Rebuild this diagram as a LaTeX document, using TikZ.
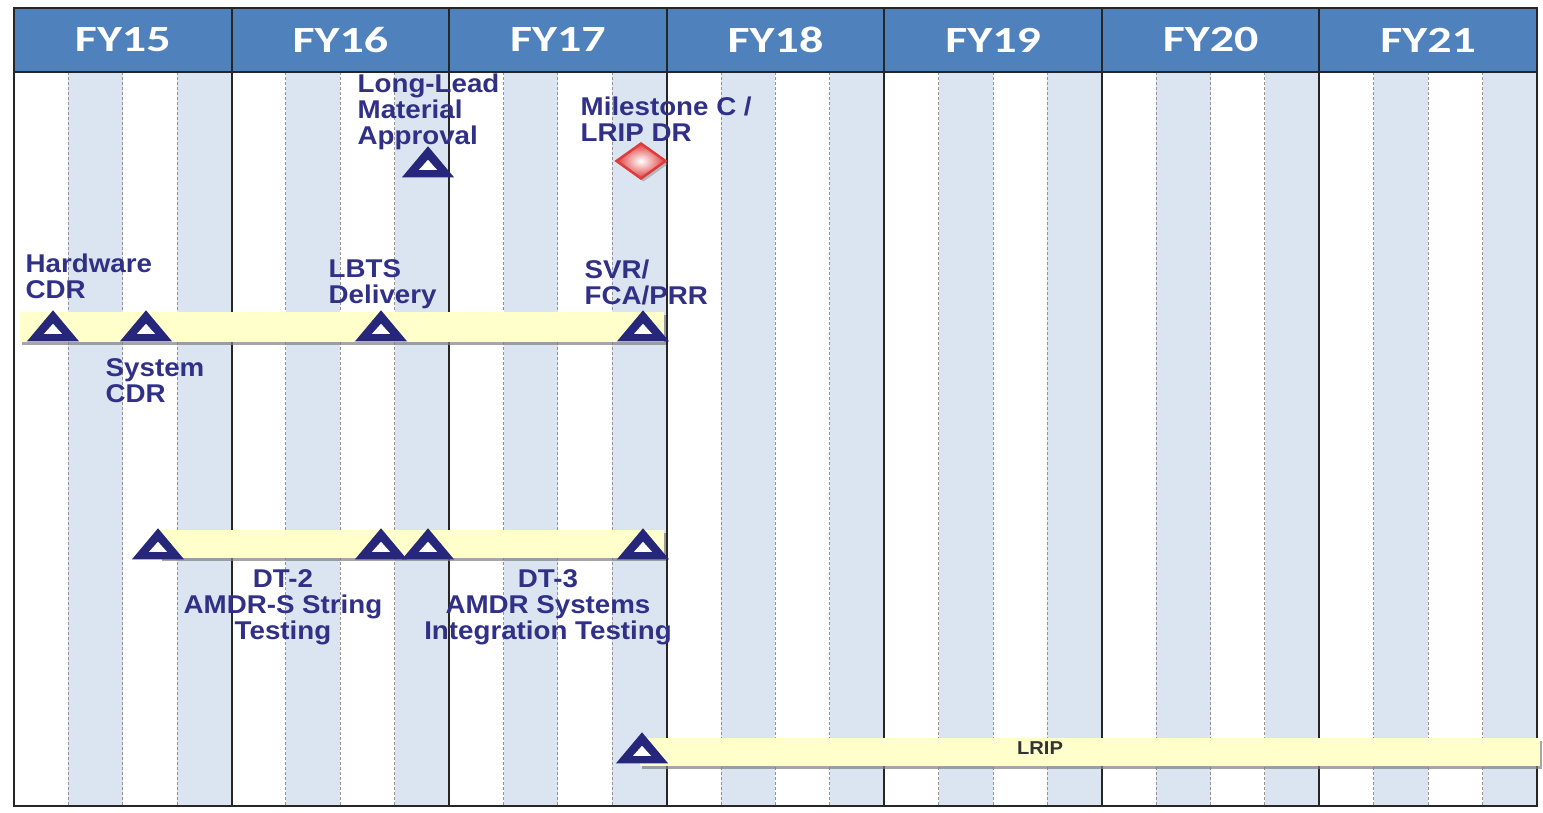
\documentclass[tikz,border=0pt]{standalone}
\usepackage{fontspec}
\newfontfamily\lblfont{Liberation Sans}[FakeStretch=1.08]
\newfontfamily\hdrfont{Carlito}[FakeStretch=1.3]
\usetikzlibrary{shapes.geometric, shadows}

\definecolor{hdrblue}{RGB}{79,129,189}
\definecolor{qshade}{RGB}{219,229,241}
\definecolor{barfill}{RGB}{255,255,204}
\definecolor{msnavy}{RGB}{38,38,122}
\definecolor{lbltext}{RGB}{48,48,135}
\definecolor{msred}{RGB}{222,60,60}

\tikzset{
  yearhdr/.style={text=white, font=\hdrfont\bfseries\fontsize{10.5}{12}\selectfont},
  lbl/.style={text=lbltext, inner sep=0pt, font=\lblfont\bfseries\fontsize{7.3}{7.4}\selectfont},
  ms/.style={isosceles triangle, isosceles triangle stretches, shape border rotate=90,
    minimum width=0.52cm, minimum height=0.31cm, inner sep=0pt, anchor=lower side,
    fill=msnavy,
    path picture={\fill[white]
      ([xshift=-0.09cm, yshift=0.075cm]path picture bounding box.south) --
      ([xshift=0.09cm, yshift=0.075cm]path picture bounding box.south) --
      ([yshift=0.175cm]path picture bounding box.south) -- cycle;}},
  msdiamond/.style={diamond, minimum width=0.5cm, minimum height=0.36cm, inner sep=0pt,
    draw=msred, line width=0.025cm, inner color=white, outer color=msred,
    drop shadow={shadow xshift=0.025cm, shadow yshift=-0.03cm, opacity=0.45}},
  bar/.style={fill=barfill, drop shadow={shadow xshift=0.015cm, shadow yshift=-0.025cm, opacity=0.7}},
  qline/.style={gray!85, line width=0.01cm, dash pattern=on 0.03cm off 0.02cm},
  yearline/.style={black!85, line width=0.02cm},
}

\begin{document}
\begin{tikzpicture}[x=0.01cm, y=-0.01cm]
  \useasboundingbox (0,0) rectangle (1543,812);

  % quarter shading and grid
  \foreach \q in {1,3,...,27}
    \fill[qshade] ({14+\q*54.39},72) rectangle ++(54.39,734);
  \foreach \q in {1,...,27}
    \draw[qline] ({14+\q*54.39},72) -- ({14+\q*54.39},806);
  \fill[hdrblue] (14,8) rectangle (1537,72);
  \foreach \yr in {1,...,6}
    \draw[yearline] ({14+\yr*217.57},8) -- ({14+\yr*217.57},806);
  \draw[yearline] (14,72) -- (1537,72);
  \draw[black!85, line width=0.025cm] (14,8) rectangle (1537,806);

  % fiscal years
  \foreach \yr [count=\i from 0] in {15,...,21}
    \node[yearhdr] (fy\yr) at ({14+(\i+0.5)*217.57},40) {FY\yr};

  % bars
  \coordinate (b1w) at (20,312);   \coordinate (b1e) at (664,342);
  \coordinate (b2w) at (160,530);  \coordinate (b2e) at (664,558);
  \coordinate (b3w) at (640,738);  \coordinate (b3e) at (1540,766);
  \path[bar] (b1w) rectangle (b1e);
  \path[bar] (b2w) rectangle (b2e);
  \path[bar] (b3w) rectangle (b3e);

  % milestones
  \node[ms] (llm) at (428,178) {};
  \node[msdiamond] (msc) at (641,161) {};
  \node[ms] (hwcdr) at (53,342) {};
  \node[ms] (syscdr) at (146,342) {};
  \node[ms] (lbts) at (381,342) {};
  \node[ms] (svr) at (643,342) {};
  \node[ms] (dt2s) at (158,560) {};
  \node[ms] (dt2e) at (381,560) {};
  \node[ms] (dt3s) at (428,560) {};
  \node[ms] (dt3e) at (643,560) {};
  \node[ms] (lrip) at (642,764) {};

  % labels
  \node[lbl, align=left, anchor=north west] (llmlbl) at (357,73) {Long-Lead\\Material\\Approval};
  \node[lbl, align=left, anchor=north west] (msclbl) at (580,96) {Milestone C /\\LRIP DR};
  \node[lbl, align=left, anchor=north west] (hwlbl) at (25,253) {Hardware\\CDR};
  \node[lbl, align=left, anchor=north west] (lbtslbl) at (328,259) {LBTS\\Delivery};
  \node[lbl, align=left, anchor=north west] (svrlbl) at (584,259) {SVR/\\FCA/PRR};
  \node[lbl, align=left, anchor=north west] (syslbl) at (105,358) {System\\CDR};
  \node[lbl, align=center, anchor=north] (dt2lbl) at (283,569) {DT-2\\AMDR-S String\\Testing};
  \node[lbl, align=center, anchor=north] (dt3lbl) at (548,569) {DT-3\\AMDR Systems\\Integration Testing};
  \node[lbl, text=black!80, font=\lblfont\bfseries\fontsize{5.3}{6}\selectfont] (lriplbl) at (1040,748) {LRIP};
\end{tikzpicture}
\end{document}
